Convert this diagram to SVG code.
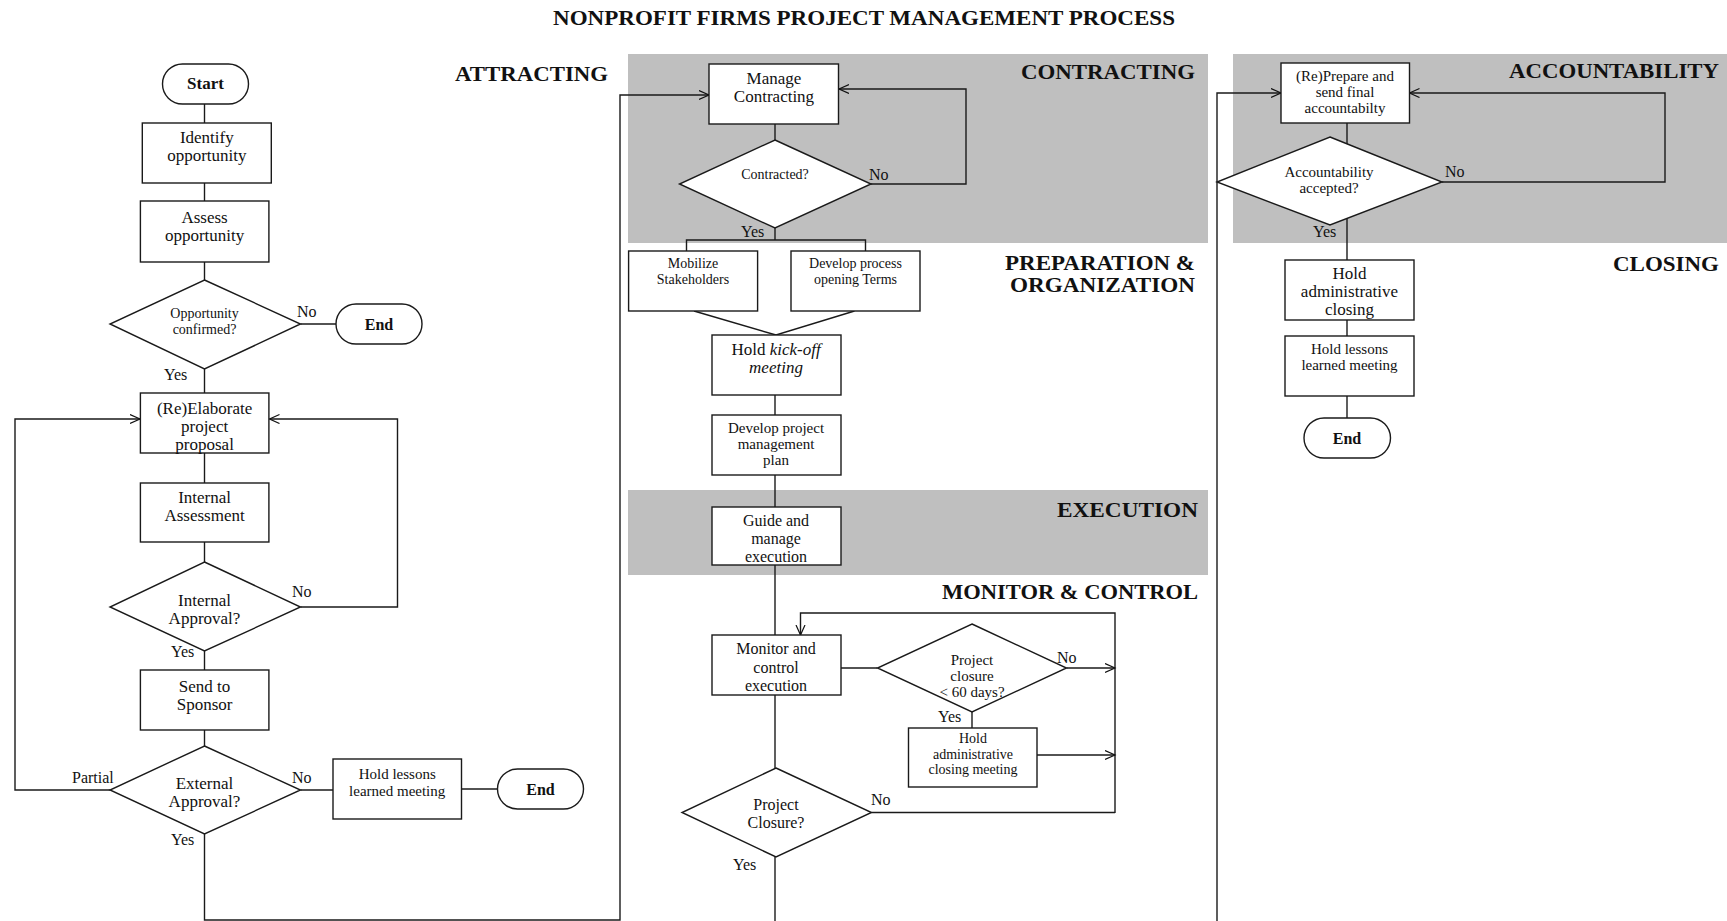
<svg xmlns="http://www.w3.org/2000/svg" width="1727" height="921" viewBox="0 0 1727 921">
  <defs>
    <marker id="arrow" markerUnits="userSpaceOnUse" markerWidth="12" markerHeight="12" refX="10" refY="5" orient="auto">
      <path d="M0,0.5 L10,5 L0,9.5" fill="none" stroke="#111" stroke-width="1.2"/>
    </marker>
    <style>
      .band{fill:#bfbfbf}
      .box{fill:#fff;stroke:#1a1a1a;stroke-width:1.4}
      .ln{fill:none;stroke:#1a1a1a;stroke-width:1.4}
      .arr{marker-end:url(#arrow)}
      text{font-family:"Liberation Serif","Times New Roman",serif;fill:#111}
      .c{text-anchor:middle}
      .s17{font-size:17px}
      .s16{font-size:16px}
      .s15{font-size:15px}
      .s14{font-size:14px}
      .b{font-weight:bold}
      .lbl{font-size:16px}
      .hd{font-size:21px;font-weight:bold}
      .title{font-size:20px;font-weight:bold}
    </style>
  </defs>

  <rect width="1727" height="921" fill="#fff"/>

  <!-- phase bands -->
  <g id="bands">
    <rect class="band" x="628" y="54" width="580" height="189"/>
    <rect class="band" x="628" y="490" width="580" height="85"/>
    <rect class="band" x="1233" y="54" width="494" height="189"/>
  </g>

  <!-- headings -->
  <g id="headings">
    <text class="title" x="553" y="25" textLength="622" lengthAdjust="spacingAndGlyphs">NONPROFIT FIRMS PROJECT MANAGEMENT PROCESS</text>
    <text class="hd" x="455" y="81" textLength="153" lengthAdjust="spacingAndGlyphs">ATTRACTING</text>
    <text class="hd" x="1021" y="79" textLength="174" lengthAdjust="spacingAndGlyphs">CONTRACTING</text>
    <text class="hd" x="1005" y="270" textLength="190" lengthAdjust="spacingAndGlyphs">PREPARATION &amp;</text>
    <text class="hd" x="1010" y="292" textLength="185" lengthAdjust="spacingAndGlyphs">ORGANIZATION</text>
    <text class="hd" x="1057" y="517" textLength="141" lengthAdjust="spacingAndGlyphs">EXECUTION</text>
    <text class="hd" x="942" y="599" textLength="256" lengthAdjust="spacingAndGlyphs">MONITOR &amp; CONTROL</text>
    <text class="hd" x="1509" y="78" textLength="210" lengthAdjust="spacingAndGlyphs">ACCOUNTABILITY</text>
    <text class="hd" x="1613" y="271" textLength="106" lengthAdjust="spacingAndGlyphs">CLOSING</text>
  </g>

  <!-- connectors -->
  <g id="connectors">
    <!-- attracting -->
    <path class="ln" d="M204.5,104 V123"/>
    <path class="ln" d="M204.5,183 V201"/>
    <path class="ln" d="M204.5,262 V280"/>
    <path class="ln" d="M300.5,324 H336"/>
    <path class="ln" d="M204.5,369 V393"/>
    <path class="ln" d="M204.5,453 V483"/>
    <path class="ln" d="M204.5,542 V562"/>
    <path class="ln" d="M204.5,651 V670"/>
    <path class="ln" d="M204.5,730 V746"/>
    <path class="ln arr" d="M300.5,607 H397.5 V419 H269.5"/>
    <path class="ln arr" d="M110,790 H15 V419 H140"/>
    <path class="ln" d="M300.5,790 H333"/>
    <path class="ln" d="M461.5,789 H497.5"/>
    <path class="ln arr" d="M204.5,834 V920 H620 V95 H709"/>
    <!-- contracting / preparation -->
    <path class="ln" d="M775,124 V140"/>
    <path class="ln arr" d="M871,184 H966 V89 H839"/>
    <path class="ln" d="M775,228 V240"/>
    <path class="ln" d="M686.5,251 V240 H865.5 V251"/>
    <path class="ln" d="M694,311 L776,335 L854.5,311"/>
    <path class="ln" d="M775,395 V415"/>
    <path class="ln" d="M775,475 V507"/>
    <!-- execution / monitor -->
    <path class="ln" d="M775,565 V635"/>
    <path class="ln" d="M841,668 H877.5"/>
    <path class="ln arr" d="M1066.5,668 H1115"/>
    <path class="ln arr" d="M1115,813 V613 H800.5 V635"/>
    <path class="ln" d="M972,712 V728"/>
    <path class="ln arr" d="M1037,755 H1115"/>
    <path class="ln" d="M871.5,812.5 H1115"/>
    <path class="ln" d="M775,695 V768"/>
    <path class="ln" d="M775,857 V921"/>
    <!-- accountability / closing -->
    <path class="ln arr" d="M1217,921 V93 H1281"/>
    <path class="ln arr" d="M1442,182 H1665 V93 H1409.5"/>
    <path class="ln" d="M1347,123 V260"/>
    <path class="ln" d="M1347,320 V336"/>
    <path class="ln" d="M1347,396 V418"/>
  </g>

  <!-- attracting -->
  <g id="start">
    <rect class="box" x="162.5" y="64" width="86" height="40" rx="20"/>
    <text class="c s17 b" x="205.5" y="89">Start</text>
  </g>
  <g id="identify">
    <rect class="box" x="142.3" y="123" width="129" height="60"/>
    <text class="c s17" x="206.8" y="143"><tspan x="206.8">Identify</tspan><tspan x="206.8" dy="18">opportunity</tspan></text>
  </g>
  <g id="assess">
    <rect class="box" x="140.4" y="201" width="128.5" height="61"/>
    <text class="c s17" x="204.6" y="223"><tspan x="204.6">Assess</tspan><tspan x="204.6" dy="18">opportunity</tspan></text>
  </g>
  <g id="opp-confirmed">
    <polygon class="box" points="204.5,280 300.5,324 204.5,369 110,324"/>
    <text class="c s14" x="204.5" y="318"><tspan x="204.5">Opportunity</tspan><tspan x="204.5" dy="15.5">confirmed?</tspan></text>
  </g>
  <g id="end-1">
    <rect class="box" x="336" y="304" width="86" height="40" rx="20"/>
    <text class="c s16 b" x="379" y="330">End</text>
  </g>
  <g id="elaborate">
    <rect class="box" x="140.4" y="393" width="128.5" height="60"/>
    <text class="c s17" x="204.6" y="414"><tspan x="204.6">(Re)Elaborate</tspan><tspan x="204.6" dy="18">project</tspan><tspan x="204.6" dy="18">proposal</tspan></text>
  </g>
  <g id="internal-assessment">
    <rect class="box" x="140.4" y="483" width="128.5" height="59"/>
    <text class="c s17" x="204.6" y="503"><tspan x="204.6">Internal</tspan><tspan x="204.6" dy="18">Assessment</tspan></text>
  </g>
  <g id="internal-approval">
    <polygon class="box" points="204.5,562 300.5,607 204.5,651 110,607"/>
    <text class="c s17" x="204.5" y="606"><tspan x="204.5">Internal</tspan><tspan x="204.5" dy="18">Approval?</tspan></text>
  </g>
  <g id="send-sponsor">
    <rect class="box" x="140.4" y="670" width="128.5" height="60"/>
    <text class="c s17" x="204.6" y="692"><tspan x="204.6">Send to</tspan><tspan x="204.6" dy="18">Sponsor</tspan></text>
  </g>
  <g id="external-approval">
    <polygon class="box" points="204.5,746 300.5,790 204.5,834 110,790"/>
    <text class="c s17" x="204.5" y="789"><tspan x="204.5">External</tspan><tspan x="204.5" dy="18">Approval?</tspan></text>
  </g>
  <g id="lessons-1">
    <rect class="box" x="333" y="759" width="128.5" height="60"/>
    <text class="c s15" x="397.2" y="779"><tspan x="397.2">Hold lessons</tspan><tspan x="397.2" dy="16.5">learned meeting</tspan></text>
  </g>
  <g id="end-2">
    <rect class="box" x="497.5" y="769" width="86" height="40" rx="20"/>
    <text class="c s16 b" x="540.5" y="795">End</text>
  </g>

  <!-- contracting / preparation -->
  <g id="manage-contracting">
    <rect class="box" x="709" y="64" width="129.5" height="60"/>
    <text class="c s17" x="774" y="84"><tspan x="774">Manage</tspan><tspan x="774" dy="18">Contracting</tspan></text>
  </g>
  <g id="contracted">
    <polygon class="box" points="775,140 871,184 775,228 679.5,184"/>
    <text class="c s14" x="775" y="179">Contracted?</text>
  </g>
  <g id="mobilize">
    <rect class="box" x="628.6" y="251" width="129" height="60"/>
    <text class="c s14" x="693" y="268"><tspan x="693">Mobilize</tspan><tspan x="693" dy="15.5">Stakeholders</tspan></text>
  </g>
  <g id="opening-terms">
    <rect class="box" x="791" y="251" width="129" height="60"/>
    <text class="c s14" x="855.5" y="268"><tspan x="855.5">Develop process</tspan><tspan x="855.5" dy="15.5">opening Terms</tspan></text>
  </g>
  <g id="kick-off">
    <rect class="box" x="712" y="335" width="129" height="60"/>
    <text class="c s17" x="776" y="355"><tspan x="776">Hold <tspan font-style="italic">kick-off</tspan></tspan><tspan x="776" dy="18" font-style="italic">meeting</tspan></text>
  </g>
  <g id="pm-plan">
    <rect class="box" x="712" y="415" width="129" height="60"/>
    <text class="c s15" x="776" y="433"><tspan x="776">Develop project</tspan><tspan x="776" dy="16">management</tspan><tspan x="776" dy="16">plan</tspan></text>
  </g>

  <!-- execution / monitor -->
  <g id="guide-execution">
    <rect class="box" x="712" y="507" width="129" height="58"/>
    <text class="c s16" x="776" y="526"><tspan x="776">Guide and</tspan><tspan x="776" dy="18">manage</tspan><tspan x="776" dy="18">execution</tspan></text>
  </g>
  <g id="monitor-control">
    <rect class="box" x="712" y="635" width="129" height="60"/>
    <text class="c s16" x="776" y="654"><tspan x="776">Monitor and</tspan><tspan x="776" dy="18.5">control</tspan><tspan x="776" dy="18.5">execution</tspan></text>
  </g>
  <g id="closure-60">
    <polygon class="box" points="972,624 1066.5,668 972,712 877.5,668"/>
    <text class="c s15" x="972" y="665"><tspan x="972">Project</tspan><tspan x="972" dy="16">closure</tspan><tspan x="972" dy="16">&lt; 60 days?</tspan></text>
  </g>
  <g id="admin-meeting">
    <rect class="box" x="908.5" y="728" width="128.5" height="59"/>
    <text class="c s14" x="973" y="743"><tspan x="973">Hold</tspan><tspan x="973" dy="15.5">administrative</tspan><tspan x="973" dy="15.5">closing meeting</tspan></text>
  </g>
  <g id="project-closure">
    <polygon class="box" points="776,768 871.5,812.5 776,857 682,812.5"/>
    <text class="c s16" x="776" y="810"><tspan x="776">Project</tspan><tspan x="776" dy="18">Closure?</tspan></text>
  </g>

  <!-- accountability / closing -->
  <g id="final-accountability">
    <rect class="box" x="1281" y="63" width="128.5" height="60"/>
    <text class="c s15" x="1345" y="81"><tspan x="1345">(Re)Prepare and</tspan><tspan x="1345" dy="16">send final</tspan><tspan x="1345" dy="16">accountabilty</tspan></text>
  </g>
  <g id="accepted">
    <polygon class="box" points="1330,137 1442,182 1330,225 1217,182"/>
    <text class="c s15" x="1329" y="177"><tspan x="1329">Accountability</tspan><tspan x="1329" dy="16">accepted?</tspan></text>
  </g>
  <g id="admin-closing">
    <rect class="box" x="1285" y="260" width="129" height="60"/>
    <text class="c s17" x="1349.5" y="279"><tspan x="1349.5">Hold</tspan><tspan x="1349.5" dy="18">administrative</tspan><tspan x="1349.5" dy="18">closing</tspan></text>
  </g>
  <g id="lessons-2">
    <rect class="box" x="1285" y="336" width="129" height="60"/>
    <text class="c s15" x="1349.5" y="354"><tspan x="1349.5">Hold lessons</tspan><tspan x="1349.5" dy="16">learned meeting</tspan></text>
  </g>
  <g id="end-3">
    <rect class="box" x="1304" y="418" width="86.5" height="40" rx="20"/>
    <text class="c s16 b" x="1347" y="444">End</text>
  </g>

  <!-- branch labels -->
  <g id="labels">
    <text class="lbl" x="297" y="317">No</text>
    <text class="lbl" x="164" y="380">Yes</text>
    <text class="lbl" x="292" y="597">No</text>
    <text class="lbl" x="171" y="657">Yes</text>
    <text class="lbl" x="72" y="783">Partial</text>
    <text class="lbl" x="292" y="783">No</text>
    <text class="lbl" x="171" y="845">Yes</text>
    <text class="lbl" x="869" y="180">No</text>
    <text class="lbl" x="741" y="237">Yes</text>
    <text class="lbl" x="1057" y="663">No</text>
    <text class="lbl" x="938" y="722">Yes</text>
    <text class="lbl" x="871" y="805">No</text>
    <text class="lbl" x="733" y="870">Yes</text>
    <text class="lbl" x="1445" y="177">No</text>
    <text class="lbl" x="1313" y="237">Yes</text>
  </g>
</svg>
